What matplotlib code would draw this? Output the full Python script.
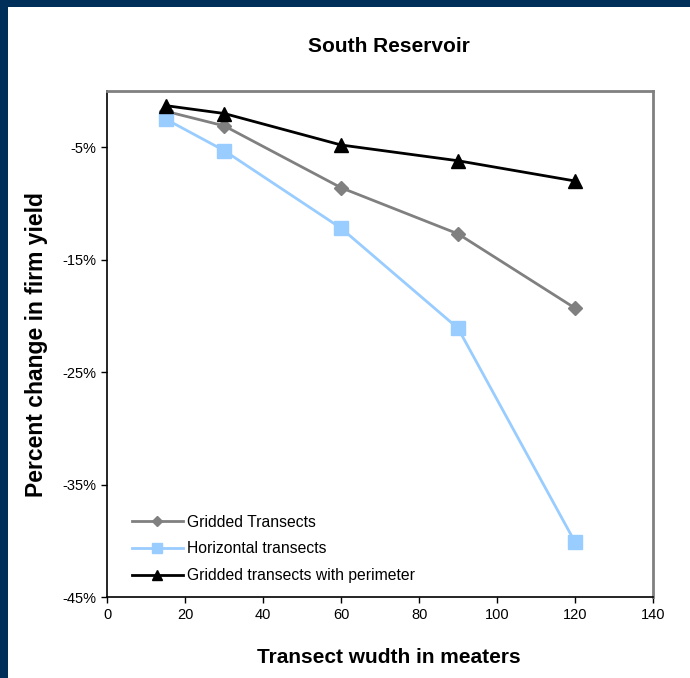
import matplotlib.pyplot as plt
from matplotlib.patches import Rectangle
from matplotlib.ticker import FuncFormatter

plt.rcParams['font.family'] = ['Liberation Sans', 'DejaVu Sans']

# Firm yield change (%) by transect width
widths = [15, 30, 60, 90, 120]
gridded = [-1.8, -3.1, -8.6, -12.7, -19.3]
horizontal = [-2.5, -5.3, -12.2, -21.1, -40.1]
perimeter = [-1.3, -2.0, -4.8, -6.2, -8.0]

fig = plt.figure(figsize=(6.9, 6.78), dpi=100)
fig.patch.set_facecolor('white')

# navy frame along top and left edges
navy = '#00305A'
fig.patches.append(Rectangle((0, 1 - 7 / 678), 1, 7 / 678, transform=fig.transFigure,
                             facecolor=navy, edgecolor='none', zorder=0))
fig.patches.append(Rectangle((0, 0), 8 / 690, 1, transform=fig.transFigure,
                             facecolor=navy, edgecolor='none', zorder=0))

ax = fig.add_axes([107.3 / 690, 1 - 597.3 / 678, (653 - 107.3) / 690, (597.3 - 91) / 678])

ax.plot(widths, gridded, color='#808080', lw=2, marker='D', ms=7,
        label='Gridded Transects')
ax.plot(widths, horizontal, color='#99CCFF', lw=2, marker='s', ms=10,
        label='Horizontal transects')
ax.plot(widths, perimeter, color='black', lw=2, marker='^', ms=10,
        label='Gridded transects with perimeter')

ax.set_xlim(0, 140)
ax.set_ylim(-45, 0)
ax.set_xticks(range(0, 141, 20))
ax.set_yticks([-45, -35, -25, -15, -5])
ax.yaxis.set_major_formatter(FuncFormatter(lambda v, p: f'{v:.0f}%'))
ax.tick_params(direction='out', length=4, width=1, labelsize=10.5, pad=4)

for side in ['top', 'right']:
    ax.spines[side].set_color('#808080')
    ax.spines[side].set_linewidth(2)
for side in ['left', 'bottom']:
    ax.spines[side].set_color('black')
    ax.spines[side].set_linewidth(1.2)

ax.set_title('South Reservoir', fontsize=15, fontweight='bold', pad=28, x=0.516)
ax.set_xlabel('Transect wudth in meaters', fontsize=15, fontweight='bold', labelpad=18)
ax.xaxis.set_label_coords(0.516, -0.1)
ax.set_ylabel('Percent change in firm yield', fontsize=16.5, fontweight='bold', labelpad=10)

leg = ax.legend(loc='lower left', bbox_to_anchor=(0.02, 0.0), frameon=False, fontsize=11.3,
                handlelength=3.2, markerscale=0.7, labelspacing=0.75, handletextpad=0.3)

fig.savefig('out.png', dpi=100)
